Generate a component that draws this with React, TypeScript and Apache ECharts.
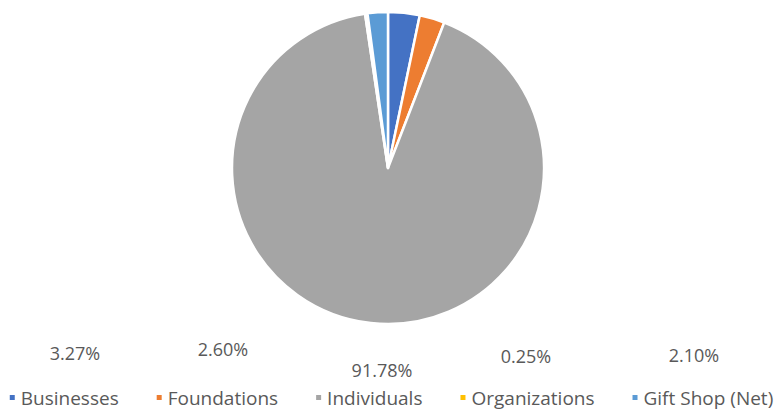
import React, { useEffect, useRef } from "react";
import * as echarts from "echarts";

const categories = ["Businesses", "Foundations", "Individuals", "Organizations", "Gift Shop (Net)"];
const shares = [3.27, 2.6, 91.78, 0.25, 2.1];
const colors = ["#4472C4", "#ED7D31", "#A5A5A5", "#FFC000", "#5B9BD5"];
// label anchor positions (px) for the manually-placed data labels
const labelX = [75, 223, 382, 526, 694];
const labelY = [353, 349, 370, 356, 355];

export default function App() {
  const ref = useRef<HTMLDivElement>(null);
  useEffect(() => {
    document.body.style.margin = "0";
    const chart = echarts.init(ref.current!, null, { renderer: "svg" });
    chart.setOption({
      animation: false,
      backgroundColor: "#ffffff",
      color: colors,
      legend: {
        top: 383,
        left: "center",
        icon: "rect",
        itemWidth: 7,
        itemHeight: 7,
        itemGap: 36,
        textStyle: { fontFamily: "Open Sans", fontSize: 19, color: "#595959" },
        data: categories,
      },
      series: [
        {
          type: "pie",
          center: [388, 168],
          radius: [0, 156],
          startAngle: 90,
          clockwise: true,
          avoidLabelOverlap: false,
          itemStyle: { borderColor: "#ffffff", borderWidth: 2.5 },
          label: {
            show: true,
            position: "outside",
            formatter: (p: any) => p.value.toFixed(2) + "%",
            fontFamily: "Open Sans",
            fontSize: 18,
            color: "#595959",
          },
          labelLine: { show: false },
          labelLayout: (p: any) => ({
            x: labelX[p.dataIndex],
            y: labelY[p.dataIndex],
            align: "center",
            verticalAlign: "middle",
            fontSize: 18,
          }),
          data: categories.map((c, i) => ({ name: c, value: shares[i] })),
        },
      ],
    });
    return () => chart.dispose();
  }, []);
  return <div ref={ref} style={{ width: 781, height: 412 }} />;
}
